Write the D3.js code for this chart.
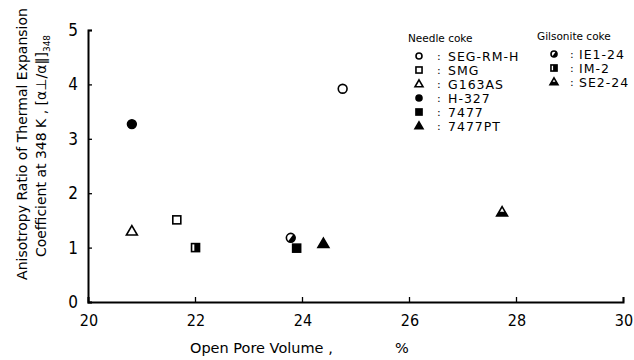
<!DOCTYPE html>
<html>
<head>
<meta charset="utf-8">
<script src="https://cdn.jsdelivr.net/npm/d3@7"></script>
<style>
  html, body { margin: 0; padding: 0; background: #fff; }
  svg { display: block; }
  text { font-family: "DejaVu Sans", "Liberation Sans", sans-serif; fill: #000; }
  .tick-label { font-family: "DejaVu Sans Condensed", "DejaVu Sans", sans-serif; font-stretch: condensed; }
</style>
</head>
<body>
<svg id="chart" width="634" height="360"></svg>
<script>
// Open pore volume (%) vs. CTE anisotropy ratio at 348 K, per coke sample
const seriesNames = ["SEG-RM-H", "SMG", "G163AS", "H-327", "7477", "7477PT", "IE1-24", "IM-2", "SE2-24"];
const seriesGroup = ["Needle coke", "Needle coke", "Needle coke", "Needle coke", "Needle coke", "Needle coke",
                     "Gilsonite coke", "Gilsonite coke", "Gilsonite coke"];
const seriesShape = ["circle", "square", "triangle", "circle", "square", "triangle", "circle", "square", "triangle"];
const seriesFill  = ["open", "open", "open", "filled", "filled", "filled", "half", "half", "half"];
const poreVolume  = [[24.76], [21.66], [20.82], [20.82], [23.9], [24.4], [23.79], [22.01], [27.74]];
const ratio       = [[3.92], [1.51], [1.30], [3.27], [0.99], [1.07], [1.18], [1.0], [1.65]];
const xTicks = [20, 22, 24, 26, 28, 30];
const yTicks = [0, 1, 2, 3, 4, 5];

const svg = d3.select("#chart");
const x = d3.scaleLinear().domain([20, 30]).range([88, 623]);
const y = d3.scaleLinear().domain([0, 5]).range([302, 30]);

// axes: ticks point inward, labels set separately
const xAxis = svg.append("g").attr("transform", `translate(0,${y(0)})`)
  .call(d3.axisTop(x).tickValues(xTicks).tickSize(5).tickFormat(""));
const yAxis = svg.append("g").attr("transform", `translate(${x(20)},0)`)
  .call(d3.axisRight(y).tickValues(yTicks).tickSize(4).tickFormat(""));
[xAxis, yAxis].forEach(g => {
  g.select(".domain").attr("stroke", "#000").attr("stroke-width", 2);
  g.selectAll(".tick line").attr("stroke", "#000").attr("stroke-width", 1.3);
});

svg.append("g").selectAll("text").data(xTicks).join("text")
  .attr("class", "tick-label")
  .attr("x", d => x(d) + 1).attr("y", 326)
  .attr("text-anchor", "middle").style("font-size", "16px")
  .text(d => d);
svg.append("g").selectAll("text").data(yTicks).join("text")
  .attr("class", "tick-label")
  .attr("x", 78).attr("y", d => y(d) + 6)
  .attr("text-anchor", "end").style("font-size", "17px")
  .text(d => d);

// axis titles
svg.append("text").attr("x", 190).attr("y", 353).style("font-size", "14.5px")
  .text("Open  Pore Volume ,");
svg.append("text").attr("x", 395).attr("y", 353).style("font-size", "14.5px").text("%");

svg.append("text")
  .attr("transform", "translate(27,144) rotate(-90)")
  .attr("text-anchor", "middle").style("font-size", "14px")
  .text("Anisotropy Ratio of Thermal Expansion");
const yt2 = svg.append("text")
  .attr("transform", "translate(46,146) rotate(-90)")
  .attr("text-anchor", "middle").style("font-size", "14px");
yt2.append("tspan").text("Coefficient at  348  K , [α⊥/α∥]");
yt2.append("tspan").attr("dy", 4).style("font-size", "9px").text("348");

// marker drawing
function drawMarker(g, shape, fill, r) {
  const sw = 1.6;
  if (shape === "circle") {
    const rr = r - sw / 2;
    g.append("circle").attr("r", rr)
      .attr("fill", fill === "filled" ? "#000" : "#fff").attr("stroke", "#000").attr("stroke-width", sw);
    if (fill === "half") {
      g.append("path").attr("d", d3.arc()({innerRadius: 0, outerRadius: rr, startAngle: Math.PI * 0.2, endAngle: Math.PI * 1.2}))
        .attr("fill", "#000");
    }
  } else if (shape === "square") {
    const s = r * 1.6;
    g.append("rect").attr("x", -s / 2).attr("y", -s / 2).attr("width", s).attr("height", s)
      .attr("fill", fill === "filled" ? "#000" : "#fff").attr("stroke", "#000").attr("stroke-width", sw);
    if (fill === "half") {
      g.append("rect").attr("x", -s / 2 + s * 0.35).attr("y", -s / 2).attr("width", s * 0.65).attr("height", s)
        .attr("fill", "#000");
    }
  } else {
    const h = r * 1.8, w = r * 2.1;
    const pts = [[0, -h * 0.6], [w / 2, h * 0.4], [-w / 2, h * 0.4]];
    g.append("path").attr("d", d3.line()(pts) + "Z")
      .attr("fill", fill === "filled" ? "#000" : "#fff").attr("stroke", "#000").attr("stroke-width", sw)
      .attr("stroke-linejoin", "miter");
    if (fill === "half") {
      const t = 0.55;
      const yy = -h * 0.6 + h * t;
      const xx = (w / 2) * t;
      g.append("path").attr("d", d3.line()([[-xx, yy], [xx, yy], [w / 2, h * 0.4], [-w / 2, h * 0.4]]) + "Z")
        .attr("fill", "#000");
    }
  }
}

// data points
const pts = svg.append("g");
seriesNames.forEach((name, i) => {
  poreVolume[i].forEach((v, j) => {
    const g = pts.append("g").attr("transform", `translate(${x(v)},${y(ratio[i][j])})`);
    drawMarker(g, seriesShape[i], seriesFill[i], seriesShape[i] === "square" ? 5 : 5.2);
  });
});

// legend, one column per coke group
const groups = [
  {name: "Needle coke", hx: 408, hy: 42, mx: 419, cx: 437, tx: 448, y0: 56},
  {name: "Gilsonite coke", hx: 537, hy: 40, mx: 554, cx: 570, tx: 579, y0: 54}
];
const rowStep = 14;
groups.forEach(gr => {
  svg.append("text").attr("x", gr.hx).attr("y", gr.hy).style("font-size", "10.5px").text(gr.name);
  const idx = seriesNames.map((n, i) => i).filter(i => seriesGroup[i] === gr.name);
  idx.forEach((i, k) => {
    const cy = gr.y0 + k * rowStep;
    const g = svg.append("g").attr("transform", `translate(${gr.mx},${cy})`);
    drawMarker(g, seriesShape[i], seriesFill[i], 3.8);
    svg.append("text").attr("x", gr.cx).attr("y", cy + 4).style("font-size", "11px").text(":");
    svg.append("text").attr("x", gr.tx).attr("y", cy + 5).style("font-size", "12.5px")
      .style("letter-spacing", "1px").text(seriesNames[i]);
  });
});
</script>
</body>
</html>
